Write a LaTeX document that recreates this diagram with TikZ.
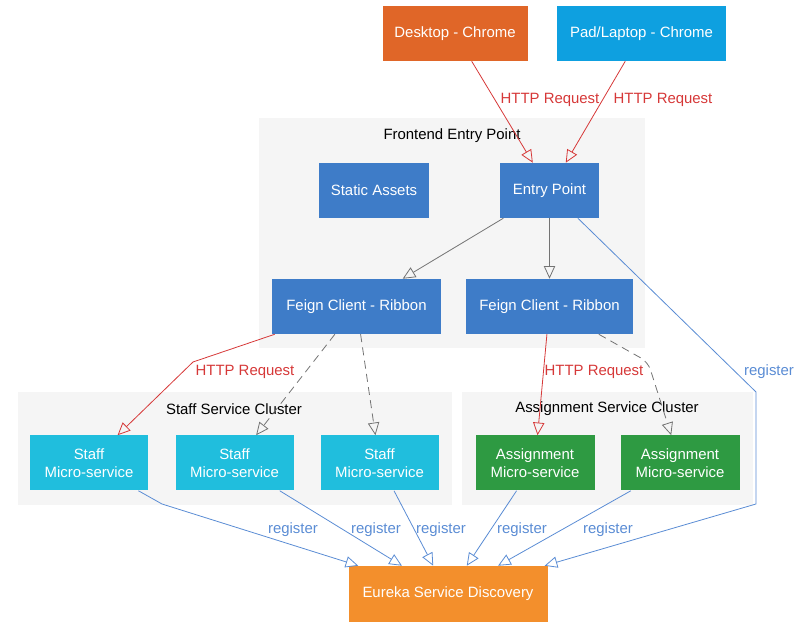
\documentclass[tikz,border=0pt]{standalone}
\usepackage{fontspec}
\setmainfont{Liberation Sans}
\usetikzlibrary{arrows.meta}
\definecolor{deskcol}{RGB}{224,102,40}
\definecolor{padcol}{RGB}{14,160,224}
\definecolor{appcol}{RGB}{62,124,200}
\definecolor{staffcol}{RGB}{32,190,221}
\definecolor{assigncol}{RGB}{46,154,66}
\definecolor{eurekacol}{RGB}{243,143,44}
\definecolor{clustercol}{RGB}{245,245,245}
\definecolor{reqcol}{RGB}{214,56,56}
\definecolor{regcol}{RGB}{90,140,212}
\begin{document}
\begin{tikzpicture}[x=.75pt,y=-.75pt,
  box/.style={minimum height=41.25pt,inner sep=0pt,text=white,align=center,font=\fontsize{11.2}{13.5}\selectfont},
  lbl/.style={font=\fontsize{11.2}{13.5}\selectfont},
  tip/.style={-{Triangle[open,length=9.5pt,width=8.5pt]},line width=.6pt},
  req/.style={tip,draw=reqcol},
  call/.style={tip,draw=black!55},
  reg/.style={tip,draw=regcol}]
\useasboundingbox (0,0) rectangle (800,630);
\fill[clustercol] (259,118) rectangle (645,348);
\fill[clustercol] (18,392) rectangle (452,505);
\fill[clustercol] (462,392) rectangle (753,505);
\node[lbl] (fetitle) at (452,136) {Frontend Entry Point};
\node[lbl] (sttitle) at (234,409) {Staff Service Cluster};
\node[lbl] (astitle) at (607,409) {Assignment Service Cluster};
\node[box,fill=deskcol,minimum width=108.75pt] (desk) at (455,33.5) {Desktop - Chrome};
\node[box,fill=padcol,minimum width=126.75pt] (pad) at (641.5,33.5) {Pad/Laptop - Chrome};
\node[box,fill=appcol,minimum width=82.5pt] (static) at (374,190.5) {Static Assets};
\node[box,fill=appcol,minimum width=74.25pt] (entry) at (549.5,190.5) {Entry Point};
\node[box,fill=appcol,minimum width=126.75pt] (feignA) at (356.5,306.5) {Feign Client - Ribbon};
\node[box,fill=appcol,minimum width=125.25pt] (feignB) at (549.5,306.5) {Feign Client - Ribbon};
\node[box,fill=staffcol,minimum width=88.5pt] (staffA) at (89,463) {Staff\\Micro-service};
\node[box,fill=staffcol,minimum width=88.5pt] (staffB) at (234.5,463) {Staff\\Micro-service};
\node[box,fill=staffcol,minimum width=88.5pt] (staffC) at (379.5,463) {Staff\\Micro-service};
\node[box,fill=assigncol,minimum width=89.25pt] (assignA) at (535,463) {Assignment\\Micro-service};
\node[box,fill=assigncol,minimum width=89.25pt] (assignB) at (680,463) {Assignment\\Micro-service};
\node[box,fill=eurekacol,minimum width=149.25pt,minimum height=42pt] (eureka) at (448,594) {Eureka Service Discovery};
\coordinate (bendA) at (193,362);
\coordinate (bendB) at (648,362);
\coordinate (bendC) at (162,504);
\coordinate (bendD) at (756,392);
\coordinate (bendE) at (756,504);
\draw[req] (desk) -- (entry);
\draw[req] (pad) -- (entry);
\draw[call] (entry) -- (feignA);
\draw[call] (entry) -- (feignB);
\draw[reg] (entry) -- (bendD) -- (bendE) -- (eureka);
\draw[req] (feignA) -- (bendA) -- (staffA);
\draw[call,dash pattern=on 6pt off 4pt] (feignA) -- (staffB);
\draw[call,dash pattern=on 6pt off 4pt] (feignA) -- (staffC);
\draw[req] (feignB) -- (assignA);
\draw[call,dash pattern=on 6pt off 4pt,rounded corners=6pt] (feignB) -- (bendB) -- (assignB);
\draw[reg] (staffA) -- (bendC) -- (eureka);
\draw[reg] (staffB) -- (eureka);
\draw[reg] (staffC) -- (eureka);
\draw[reg] (assignA) -- (eureka);
\draw[reg] (assignB) -- (eureka);
\node[lbl,text=reqcol] (reqA) at (550,100) {HTTP Request};
\node[lbl,text=reqcol] (reqB) at (663,100) {HTTP Request};
\node[lbl,text=reqcol] (reqC) at (245,372) {HTTP Request};
\node[lbl,text=reqcol] (reqD) at (594,372) {HTTP Request};
\node[lbl,text=regcol] (regA) at (769,372) {register};
\foreach \x/\n in {293/B,376/C,441/D,522/E,608/F}
  \node[lbl,text=regcol] (reg\n) at (\x,530) {register};
\end{tikzpicture}
\end{document}
